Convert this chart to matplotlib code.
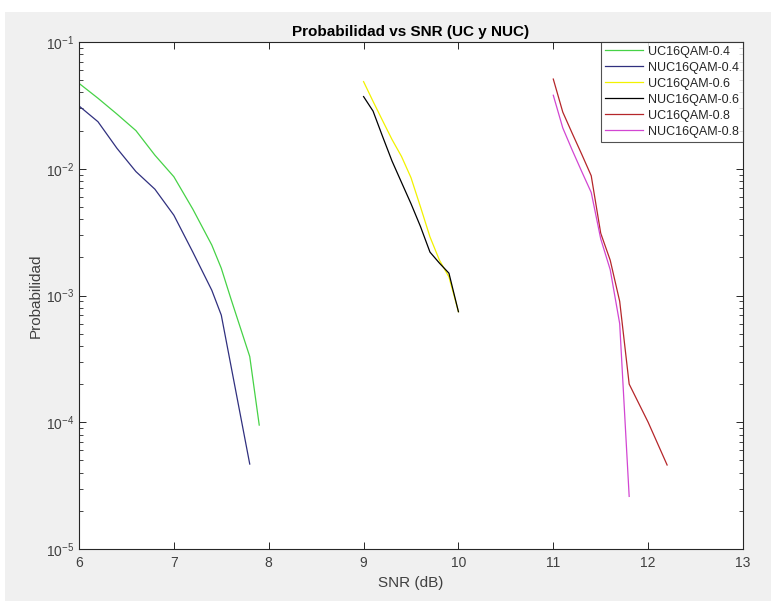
import matplotlib
matplotlib.use("Agg")
import matplotlib.pyplot as plt
from matplotlib.patches import Rectangle
from matplotlib.ticker import LogLocator, NullFormatter

plt.rcParams['font.family'] = ['Liberation Sans', 'DejaVu Sans']

# SNR (dB) and probability values
snr_uc04 = [6.0, 6.2, 6.4, 6.6, 6.8, 7.0, 7.2, 7.4, 7.5, 7.6, 7.8, 7.9]
p_uc04 = [0.0472, 0.036, 0.027, 0.020, 0.0128, 0.00865, 0.0048, 0.0025, 0.00164, 0.00095, 0.00033, 0.000095]

snr_nuc04 = [6.0, 6.2, 6.4, 6.6, 6.8, 7.0, 7.2, 7.4, 7.5, 7.8]
p_nuc04 = [0.0313, 0.0235, 0.0145, 0.0095, 0.0069, 0.0043, 0.0022, 0.0011, 0.0007, 0.0000468]

snr_uc06 = [9.0, 9.1, 9.2, 9.3, 9.4, 9.5, 9.6, 9.7, 9.8, 9.9, 10.0]
p_uc06 = [0.0487, 0.034, 0.024, 0.017, 0.0125, 0.0085, 0.0050, 0.0029, 0.0019, 0.0014, 0.000745]

snr_nuc06 = [9.0, 9.1, 9.2, 9.3, 9.4, 9.5, 9.6, 9.7, 9.8, 9.9, 10.0]
p_nuc06 = [0.0371, 0.0285, 0.018, 0.0115, 0.0078, 0.0053, 0.0035, 0.0022, 0.0018, 0.0015, 0.000745]

snr_uc08 = [11.0, 11.1, 11.2, 11.3, 11.4, 11.5, 11.6, 11.7, 11.8, 12.0, 12.2]
p_uc08 = [0.051, 0.028, 0.019, 0.013, 0.0088, 0.0031, 0.0019, 0.0009, 0.0002, 0.0001, 0.000046]

snr_nuc08 = [11.0, 11.1, 11.2, 11.3, 11.4, 11.5, 11.6, 11.7, 11.8]
p_nuc08 = [0.038, 0.021, 0.014, 0.0095, 0.0065, 0.0028, 0.0016, 0.0006, 0.000026]

series = [
    (snr_uc04, p_uc04, '#46d246', 'UC16QAM-0.4'),
    (snr_nuc04, p_nuc04, '#30307f', 'NUC16QAM-0.4'),
    (snr_uc06, p_uc06, '#f2f200', 'UC16QAM-0.6'),
    (snr_nuc06, p_nuc06, '#000000', 'NUC16QAM-0.6'),
    (snr_uc08, p_uc08, '#b5262a', 'UC16QAM-0.8'),
    (snr_nuc08, p_nuc08, '#d246d2', 'NUC16QAM-0.8'),
]

fig = plt.figure(figsize=(7.71, 6.01), dpi=100, facecolor='white')
fig.patches.append(Rectangle((5 / 771, 0), 1, (601 - 12) / 601,
                             transform=fig.transFigure, facecolor='#f0f0f0',
                             edgecolor='none', zorder=-10))

ax = fig.add_axes([79 / 771, (601 - 549) / 601, 664 / 771, 507 / 601])
ax.set_facecolor('white')

for x, y, c, lab in series:
    ax.semilogy(x, y, color=c, lw=0.9, label=lab)

ax.set_xlim(6, 13)
ax.set_ylim(1e-5, 1e-1)
ax.set_xticks(range(6, 14))
ax.yaxis.set_major_locator(LogLocator(base=10, numticks=10))
ax.yaxis.set_minor_locator(LogLocator(base=10, subs=range(2, 10), numticks=10))
ax.yaxis.set_minor_formatter(NullFormatter())

txt = '#404040'
ax.tick_params(which='both', direction='in', top=True, right=True,
               colors='#262626', labelcolor=txt, labelsize=10)
ax.tick_params(which='major', length=5, width=0.7)
ax.tick_params(which='minor', length=3, width=0.6)
ax.tick_params(axis='x', which='minor', top=False, bottom=False)
ax.tick_params(axis='x', pad=5)
for s in ax.spines.values():
    s.set_color('#262626')
    s.set_linewidth(0.8)

ax.set_title('Probabilidad vs SNR (UC y NUC)', fontsize=11, fontweight='bold',
             color='#000000', pad=4)
ax.set_xlabel('SNR (dB)', fontsize=11, color=txt, labelpad=4)
ax.set_ylabel('Probabilidad', fontsize=11, color=txt, labelpad=2)

leg = ax.legend(loc='upper right', fontsize=9, frameon=True, fancybox=False,
                borderaxespad=0, handlelength=3.1, labelspacing=0.32,
                handletextpad=0.4, borderpad=0.3)
leg.get_frame().set_edgecolor('#262626')
leg.get_frame().set_linewidth(0.8)
for t in leg.get_texts():
    t.set_color('#262626')

fig.savefig('out.png', dpi=100, facecolor=fig.get_facecolor())
